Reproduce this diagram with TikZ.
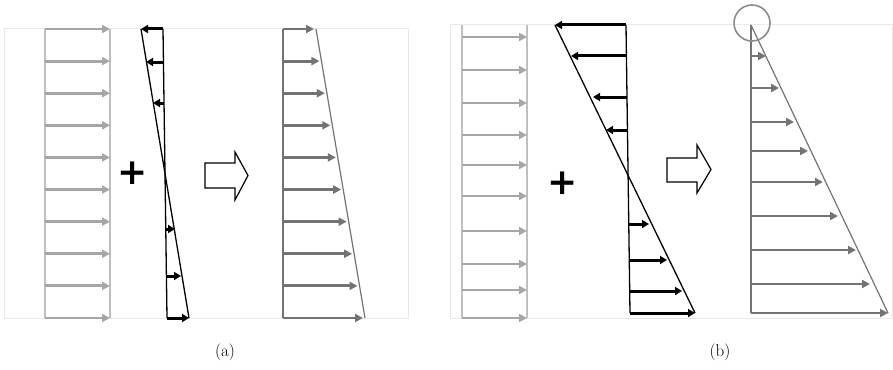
\documentclass[tikz,border=0pt]{standalone}
\usepackage{amsmath}
\usepackage{fontspec}
\newfontfamily\plusfont{DejaVu Sans}
\usetikzlibrary{arrows.meta,positioning}
\tikzset{
    frameline/.style={draw=black!9, line width=1pt},
    guide/.style={draw=black!25, line width=1.2pt},
    uniform/.style={draw=black!35, line width=2.8pt, -{Triangle[length=8pt,width=8pt]}},
    bendarr/.style={draw=black, line width=3pt, -{Triangle[length=7pt,width=8pt]}},
    bendline/.style={draw=black, line width=1.3pt},
    sumarr/.style={draw=black!55, line width=2.8pt, -{Triangle[length=8pt,width=8pt]}},
    sumline/.style={draw=black!55, line width=1.2pt},
    hollowarr/.style={draw=black, line width=1.2pt, fill=white},
    plussign/.style={font=\plusfont\bfseries\fontsize{36}{36}\selectfont, inner sep=0pt},
    caption/.style={font=\fontsize{17}{17}\selectfont, inner sep=0pt}
}
\begin{document}
\begin{tikzpicture}[x=1pt, y=-1pt]
    \useasboundingbox (0,0) rectangle (893,369);

    % panel (a)
    \draw[frameline] (4,29) rectangle (408,318);
    \draw[guide] (45,29) -- (45,318);
    \draw[guide] (110,29) -- (110,318);
    \foreach \i in {0,...,9} {
        \pgfmathsetmacro\yy{29+\i*32.11}
        \draw[uniform] (45,\yy) -- (110,\yy);
    }
    \node[plussign] (plusA) at (133,173) {+};

    \coordinate (aTop) at (163,29);
    \coordinate (aBot) at (167,318);
    \coordinate (aLeft) at (141,29);
    \coordinate (aRight) at (189,318);
    \draw[bendline] (aTop) -- (aBot);
    \draw[bendline] (aLeft) -- (aRight);
    \draw[bendarr] (aTop) -- (aLeft);
    \draw[bendarr] (163.5,62) -- (146,62);
    \draw[bendarr] (164,103) -- (153,103);
    \draw[bendarr] (166,229) -- (175,229);
    \draw[bendarr] (167,276) -- (181,276);
    \draw[bendarr] (aBot) -- (aRight);

    \draw[hollowarr] (205,163) -- (235,163) -- (235,152) -- (248,175.5)
        -- (235,200) -- (235,188) -- (205,188) -- cycle;

    \coordinate (sTop) at (283,29);
    \coordinate (sBot) at (283,318);
    \draw[sumline] (sTop) -- (sBot);
    \draw[sumline] (316,29) -- (365,318);
    \foreach \i in {0,...,9} {
        \pgfmathsetmacro\yy{29+\i*32.11}
        \pgfmathsetmacro\xx{316+49*(\yy-29)/289-2}
        \draw[sumarr] (283,\yy) -- (\xx,\yy);
    }

    % panel (b)
    \draw[frameline] (450,25) rectangle (892,318);
    \draw[guide] (462,25) -- (462,318);
    \draw[guide] (527,25) -- (527,318);
    \foreach \yy in {37,70,103,135,165,196,231,264,290,318}
        \draw[uniform] (462,\yy) -- (527,\yy);
    \node[plussign] (plusB) at (563,183) {+};

    \coordinate (bTop) at (626,25);
    \coordinate (bBot) at (630,313);
    \coordinate (bLeft) at (555,25);
    \coordinate (bRight) at (695,313);
    \draw[bendline] (bTop) -- (bBot);
    \draw[bendline] (bLeft) -- (bRight);
    \draw[bendarr] (bTop) -- (bLeft);
    \draw[bendarr] (626.5,56) -- (571,56);
    \draw[bendarr] (627,97) -- (593,97);
    \draw[bendarr] (627.5,130) -- (606,130);
    \draw[bendarr] (629,224) -- (649,224);
    \draw[bendarr] (629.5,260) -- (667,260);
    \draw[bendarr] (630,291) -- (682,291);
    \draw[bendarr] (bBot) -- (bRight);

    \draw[hollowarr] (667,158) -- (697,158) -- (697,145) -- (711,169.5)
        -- (697,193) -- (697,182) -- (667,182) -- cycle;

    \coordinate (tTop) at (751,25);
    \coordinate (tBot) at (751,313);
    \coordinate (tRight) at (888,313);
    \draw[sumline] (tTop) -- (tBot);
    \draw[sumline] (tTop) -- (tRight);
    \foreach \yy/\xx in {56/766,88/779,122/794,151/808,182/823,216/838,250/856,284/870}
        \draw[sumarr] (751,\yy) -- (\xx,\yy);
    \draw[sumarr] (tBot) -- (tRight);
    \node[draw=black!45, line width=1.6pt, circle, minimum size=36pt, inner sep=0pt] (peak) at (752,23) {};

    % captions
    \node[caption] (capA) at (225,352) {(a)};
    \node[caption] (capB) at (720,352) {(b)};
\end{tikzpicture}
\end{document}
